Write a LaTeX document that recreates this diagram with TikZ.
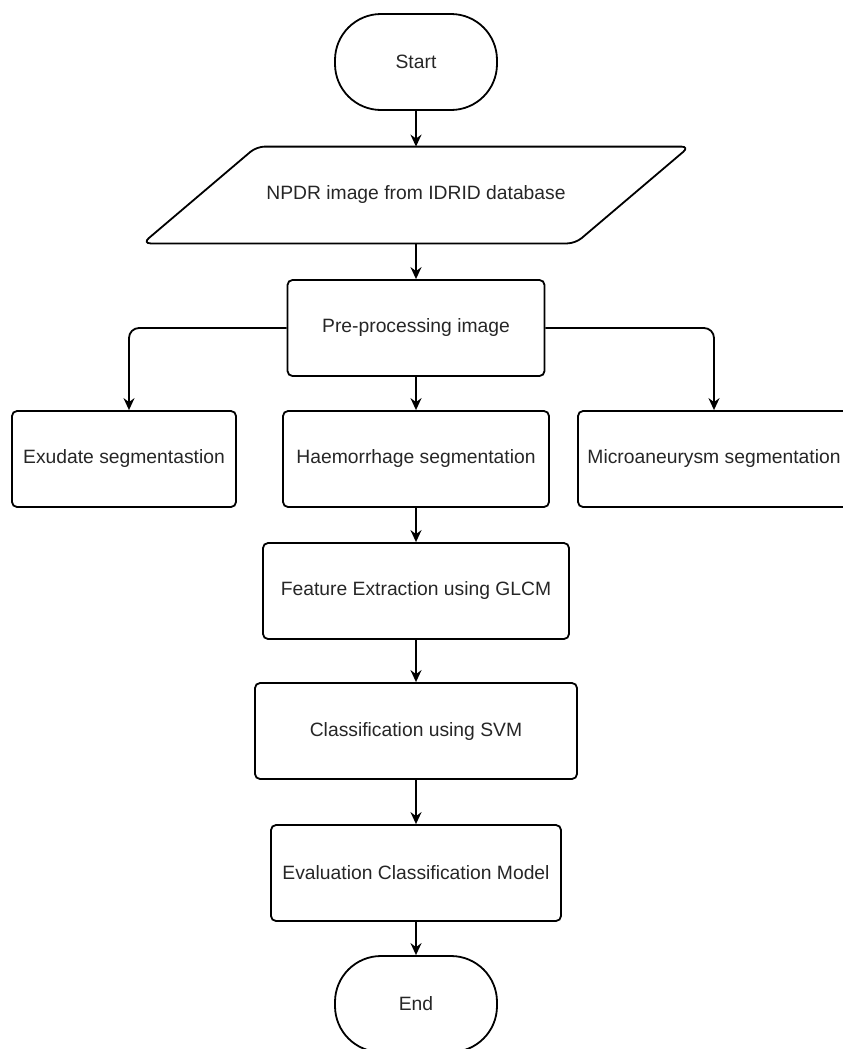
\documentclass[tikz,border=0pt]{standalone}
\usepackage{fontspec}
\setmainfont{Liberation Sans}
\usetikzlibrary{arrows.meta}

\begin{document}
\begin{tikzpicture}[x=0.5pt, y=-0.5pt,
    every node/.style={font=\fontsize{9.65}{11}\selectfont, text=black!85},
    box/.style={draw, rounded corners=2.5pt, line width=0.9pt, minimum height=48pt, inner sep=0pt},
    term/.style={draw, rounded corners=23pt, line width=0.9pt, minimum width=81pt, minimum height=48pt, inner sep=0pt},
    arr/.style={-{Stealth[length=6pt, width=5.5pt, inset=2pt]}, line width=0.9pt}]
    \useasboundingbox (0,0) rectangle (842,1049);
    % terminals and input
    \node[term] (start) at (416,62) {Start};
    \node[minimum width=273pt, minimum height=48pt, inner sep=0pt] (img) at (416,195) {NPDR image from IDRID database};
    \draw[line width=0.9pt, rounded corners=4pt] ([xshift=57pt]img.north west) -- (img.north east)
        -- ([xshift=-57pt]img.south east) -- (img.south west) -- cycle;
    % process boxes
    \node[box, minimum width=128.5pt] (pre) at (416,328) {Pre-processing image};
    \node[box, minimum width=112pt] (exu) at (124,459) {Exudate segmentastion};
    \node[box, minimum width=133pt] (hae) at (416,459) {Haemorrhage segmentation};
    \node[box, minimum width=136pt] (mic) at (714,459) {Microaneurysm segmentation};
    \node[box, minimum width=153pt] (feat) at (416,591) {Feature Extraction using GLCM};
    \node[box, minimum width=161pt] (svm) at (416,731) {Classification using SVM};
    \node[box, minimum width=145pt] (eval) at (416,873) {Evaluation Classification Model};
    \node[term] (end) at (416,1004) {End};
    % connectors
    \draw[arr] (start) -- (img);
    \draw[arr] (img) -- (pre);
    \draw[arr, rounded corners=5pt] (pre.west) -| ([xshift=2.5pt]exu.north);
    \draw[arr] (pre) -- (hae);
    \draw[arr, rounded corners=5pt] (pre.east) -| (mic.north);
    \draw[arr] (hae) -- (feat);
    \draw[arr] (feat) -- (svm);
    \draw[arr] (svm) -- (eval);
    \draw[arr] (eval) -- (end);
\end{tikzpicture}
\end{document}
